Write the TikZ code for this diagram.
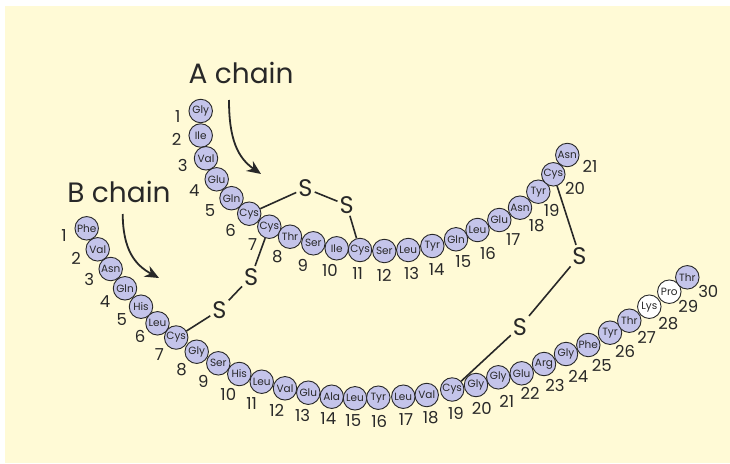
\documentclass[tikz,border=0pt]{standalone}
\usepackage{fontspec}
\setmainfont{Poppins}
\usetikzlibrary{arrows.meta}
\definecolor{panel}{RGB}{255,250,214}
\definecolor{resfill}{RGB}{196,196,234}
\definecolor{ink}{RGB}{40,40,40}
\tikzset{
  residue/.style={circle,draw=ink,line width=0.9pt,fill=resfill,minimum size=23.5pt,inner sep=0pt,
    text=ink,font=\fontsize{10.5}{10.5}\selectfont},
  freeres/.style={residue,fill=white},
  numlab/.style={text=ink,font=\fontsize{16.5}{16.5}\selectfont,inner sep=0pt},
  sulfur/.style={text=ink,font=\fontsize{24}{24}\selectfont,inner sep=2pt},
  chainlab/.style={text=ink,font=\fontsize{28}{28}\selectfont,inner sep=0pt},
  bond/.style={ink,line width=1.6pt},
  pointer/.style={ink,line width=1.8pt,-{Stealth[length=14pt,width=12pt]}}
}
\begin{document}
\begin{tikzpicture}[x=1pt,y=-1pt]
\useasboundingbox (0,0) rectangle (730,463);
\fill[panel] (5,6) rectangle (730,463);

% A chain residues: index / name / centre / number position
\foreach \i/\r/\x/\y/\lx/\ly in {
  1/Gly/200.7/111/177.7/117,
  2/Ile/200.7/135.5/176.7/139,
  3/Val/206/158.3/182.7/165,
  4/Glu/216.7/179.3/194.3/190.7,
  5/Gln/231.5/198.2/210/210.7,
  6/Cys/249.2/213.7/230.5/230,
  7/Cys/269.3/226.7/252.7/245,
  8/Thr/290/236.7/277.3/256.7,
  9/Ser/313.3/243.3/302.7/265.7,
  10/Ile/336.7/248.3/330/270,
  11/Cys/360/250/357.7/274,
  12/Ser/384.3/251/384.3/275,
  13/Leu/408.3/250/411.7/273.3,
  14/Tyr/432.3/246/436.7/269.3,
  15/Gln/456/239.3/463.3/261.7,
  16/Leu/477.5/230/488/253.3,
  17/Glu/499.3/220/513.3/240,
  18/Asn/520/207.7/536.7/226,
  19/Tyr/538.3/191.7/551.7/210,
  20/Cys/553.3/174.3/575/188.3,
  21/Asn/567.3/155/590/166}{
  \node[residue] (a\i) at (\x,\y) {\r};
  \node[numlab] (an\i) at (\lx,\ly) {\i};
}

% B chain residues
\foreach \i/\r/\x/\y/\lx/\ly in {
  1/Phe/86.7/228.3/64/236,
  2/Val/97.7/249.3/76/258.3,
  3/Asn/110.7/269/89.3/279.3,
  4/Gln/125/288.3/105/301.7,
  5/His/141/306.7/121.7/320,
  6/Leu/157.5/323.3/140/336.7,
  7/Cys/176.2/337.5/159.3/355,
  8/Gly/196.7/351.7/181.7/370,
  9/Ser/218.3/363.3/203.3/381.7,
  10/His/239.3/374/228.3/394.3,
  11/Leu/261.7/381.7/251.7/404,
  12/Val/285/388.3/276.7/410,
  13/Glu/308.3/392.7/302.7/415,
  14/Ala/331.7/396.7/328.3/418.3,
  15/Leu/355/398.3/353.3/420.7,
  16/Tyr/378.3/397.7/379.3/421.7,
  17/Leu/403.3/396.7/406/420,
  18/Val/426.7/395/430.7/417.3,
  19/Cys/452.2/389.5/456/413.3,
  20/Gly/476/385/481.7/408.3,
  21/Gly/498.3/377.3/506.7/401.7,
  22/Glu/521.7/373.3/530/393.3,
  23/Arg/544/364/555/385,
  24/Gly/566/354/578.3/376,
  25/Phe/588.3/345/601.7/365,
  26/Tyr/610/332.7/625/351.7,
  27/Thr/629.3/320.7/646.7/337.3}{
  \node[residue] (b\i) at (\x,\y) {\r};
  \node[numlab] (bn\i) at (\lx,\ly) {\i};
}
\node[freeres] (b28) at (649.3,306.7) {Lys};
\node[numlab] (bn28) at (668.3,323.3) {28};
\node[freeres] (b29) at (669.3,291.7) {Pro};
\node[numlab] (bn29) at (688.3,306.7) {29};
\node[residue] (b30) at (687.3,277.3) {Thr};
\node[numlab] (bn30) at (708.3,291.7) {30};

% sulfur atoms of the three disulfide bridges
\node[sulfur] (sa1) at (305.5,188.3) {S};
\node[sulfur] (sa2) at (346.7,205) {S};
\node[sulfur] (sb1) at (251.2,276.7) {S};
\node[sulfur] (sb2) at (219.5,310) {S};
\node[sulfur] (sc1) at (579.5,255.7) {S};
\node[sulfur] (sc2) at (520,326.7) {S};

% bridges
\draw[bond] (a6) -- (sa1);
\draw[bond] (sa1) -- (sa2);
\draw[bond] (sa2) -- (a11);
\draw[bond] (a7) -- (sb1);
\draw[bond] (sb1) -- (sb2);
\draw[bond] (sb2) -- (b7);
\draw[bond] (a20) -- (sc1);
\draw[bond] (sc1) -- (sc2);
\draw[bond] (sc2) -- (b19);

% chain labels with pointers
\node[chainlab] (labA) at (241,73) {A chain};
\node[chainlab] (labB) at (119,191.7) {B chain};
\coordinate (pA0) at (229,100);
\coordinate (pA1) at (261,174);
\coordinate (pB0) at (122.7,214);
\coordinate (pB1) at (159,278);
\draw[pointer] (pA0) .. controls (229,140) and (238,158) .. (pA1);
\draw[pointer] (pB0) .. controls (123,250) and (135,265) .. (pB1);
\end{tikzpicture}
\end{document}
